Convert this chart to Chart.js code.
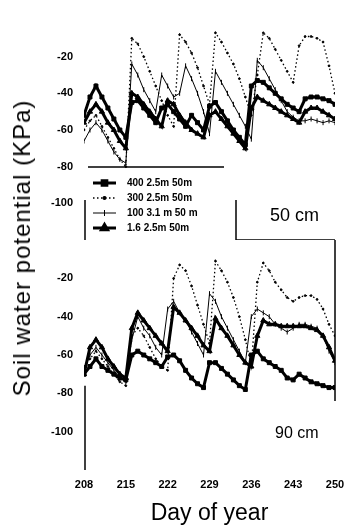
<!DOCTYPE html>
<html>
<head>
<meta charset="utf-8">
<script src="https://cdn.jsdelivr.net/npm/chart.js@4"></script>
<style>
  html, body { margin: 0; padding: 0; background: #fff; }
  #wrap { position: relative; width: 344px; height: 529px; overflow: hidden; }
  .panel { position: absolute; left: 0; width: 344px; }
  #top { top: 0; height: 240px; }
  #bot { top: 240px; height: 289px; }
  #ytitle {
    position: absolute; left: 22px; top: 248px;
    transform: translate(-50%, -50%) rotate(-90deg);
    font: 24px "Liberation Sans", Arial, sans-serif; letter-spacing: 1px;
    white-space: nowrap; color: #000;
  }
</style>
</head>
<body>
<div id="wrap">
  <div class="panel" id="top"><canvas id="c50"></canvas></div>
  <div class="panel" id="bot"><canvas id="c90"></canvas></div>
  <div id="ytitle">Soil water potential (KPa)</div>
</div>
<script>
// Day of year, one reading per day
const days = [208,209,210,211,212,213,214,215,216,217,218,219,220,221,222,223,224,225,226,227,228,
              229,230,231,232,233,234,235,236,237,238,239,240,241,242,243,244,245,246,247,248,249,250];
const xTicks = [208, 215, 222, 229, 236, 243, 250];
const yTicks = [-20, -40, -60, -80, -100];

const seriesLabels = ['400 2.5m 50m', '300 2.5m 50m', '100 3.1 m 50 m', '1.6 2.5m 50m'];

// 50 cm depth (kPa)
const s50a = [-52,-42,-36,-42,-48,-54,-60,-64,-45,-44,-48,-52,-56,-48,-46,-50,-54,-58,-52,-56,-60,
              -47,-45,-50,-55,-60,-64,-68,-36,-33,-34,-37,-40,-43,-46,-48,-50,-43,-42,-42,-43,-44,-46];
const s50b = [-60,-55,-52,-58,-64,-70,-76,-80,-10,-13,-20,-28,-36,-44,-52,-58,-8,-12,-18,-26,-36,
              -46,-7,-12,-18,-24,-32,-42,-52,-30,-7,-10,-16,-22,-28,-34,-14,-9,-9,-10,-12,-25,-40];
const s50c = [-66,-60,-56,-60,-66,-72,-76,-78,-24,-30,-38,-44,-50,-30,-36,-42,-40,-25,-32,-40,-50,
              -62,-28,-34,-40,-46,-52,-58,-65,-22,-26,-32,-38,-44,-50,-53,-55,-55,-54,-55,-56,-55,-56];
const s50d = [-56,-50,-46,-50,-56,-60,-66,-70,-40,-42,-46,-50,-54,-58,-44,-46,-52,-56,-60,-62,-64,
              -52,-50,-54,-58,-62,-66,-70,-48,-42,-44,-46,-48,-50,-52,-54,-56,-50,-48,-48,-50,-52,-54];

// 90 cm depth (kPa)
const s90a = [-70,-66,-62,-66,-68,-70,-72,-73,-60,-58,-60,-62,-64,-66,-61,-60,-63,-68,-72,-75,-77,
              -64,-64,-67,-70,-73,-76,-78,-60,-58,-62,-64,-66,-68,-72,-73,-70,-72,-74,-75,-76,-77,-77];
const s90b = [-66,-62,-58,-62,-66,-70,-74,-76,-50,-46,-50,-56,-62,-66,-68,-20,-13,-16,-24,-34,-44,
              -54,-11,-16,-22,-30,-40,-52,-66,-22,-12,-16,-22,-26,-30,-32,-30,-29,-29,-31,-36,-44,-50];
const s90c = [-68,-60,-56,-60,-64,-68,-72,-74,-52,-40,-46,-50,-56,-60,-36,-32,-38,-42,-48,-54,-60,
              -28,-32,-40,-46,-52,-58,-64,-40,-36,-38,-40,-44,-46,-48,-46,-44,-44,-45,-46,-50,-58,-64];
const s90d = [-70,-56,-52,-56,-62,-66,-70,-72,-46,-38,-42,-46,-50,-54,-58,-35,-38,-42,-46,-50,-55,
              -58,-41,-46,-50,-55,-60,-64,-66,-50,-42,-44,-44,-45,-45,-45,-45,-45,-46,-47,-50,-56,-63];

const FONT = '"Liberation Sans", Arial, sans-serif';
const styles = [
  { borderWidth: 3, pointStyle: 'rect', pointRadius: 2.8, borderDash: [] },
  { borderWidth: 1.3, pointStyle: 'circle', pointRadius: 0.9, borderDash: [1.5, 2.5] },
  { borderWidth: 1, pointStyle: 'line', pointRadius: 2.5, rotation: 90, borderDash: [] },
  { borderWidth: 3, pointStyle: 'triangle', pointRadius: 3, borderDash: [] },
];

function makeSets(list) {
  return list.map((vals, i) => ({
    label: seriesLabels[i],
    data: days.map((d, k) => ({ x: d, y: vals[k] })),
    borderColor: '#000',
    backgroundColor: '#000',
    pointBackgroundColor: '#000',
    pointBorderColor: '#000',
    pointBorderWidth: 1,
    tension: 0,
    ...styles[i],
    pointRotation: styles[i].rotation || 0,
  }));
}

// keep the plot box fixed: no extra room for tick labels
function noPad(s) {
  s.paddingTop = 0; s.paddingBottom = 0; s.paddingLeft = 0; s.paddingRight = 0;
}

function yScale() {
  return {
    min: -120, max: 0,
    afterBuildTicks: s => { s.ticks = yTicks.map(v => ({ value: v })); },
    afterFit: s => { s.width = 84; noPad(s); },
    grid: { display: false, drawTicks: false },
    border: { display: false },
    ticks: { padding: 11, color: '#000', font: { family: FONT, size: 11, weight: 'bold' } },
  };
}

function line(ctx, x1, y1, x2, y2) {
  ctx.beginPath(); ctx.moveTo(x1, y1); ctx.lineTo(x2, y2); ctx.stroke();
}

// legend box inside the 50 cm panel plus the panel label
const legendPlugin = {
  id: 'boxLegend',
  afterDraw(chart) {
    const { ctx, chartArea: a } = chart;
    const boxL = a.left, boxR = a.left + 152, boxT = a.bottom - 73;
    ctx.save();
    ctx.strokeStyle = '#000'; ctx.lineWidth = 1.5;
    line(ctx, boxL + 4, boxT, boxR - 12, boxT);
    line(ctx, boxL + 1, a.bottom - 40, boxL + 1, a.bottom);
    line(ctx, boxR, a.bottom - 40, boxR, a.bottom);
    line(ctx, boxR, a.bottom, a.right, a.bottom);
    chart.data.datasets.forEach((ds, i) => {
      const y = a.bottom - 57 + i * 15;
      const x0 = a.left + 9, x1 = a.left + 32;
      ctx.lineWidth = ds.borderWidth;
      ctx.setLineDash(ds.borderDash || []);
      line(ctx, x0, y, x1, y);
      ctx.setLineDash([]);
      Chart.helpers.drawPoint(ctx, {
        pointStyle: ds.pointStyle, radius: ds.pointRadius + 0.5, rotation: ds.pointRotation, borderWidth: 1
      }, (x0 + x1) / 2, y);
      ctx.fillStyle = '#000';
      ctx.font = 'bold 10px ' + FONT;
      ctx.textBaseline = 'middle';
      ctx.fillText(ds.label, a.left + 43, y);
    });
    ctx.font = '18px ' + FONT;
    ctx.textBaseline = 'middle';
    ctx.fillText('50 cm', a.left + 186, a.bottom - 24);
    ctx.restore();
  }
};

// partial frame of the 90 cm panel plus its label
const framePlugin = {
  id: 'frame90',
  afterDraw(chart) {
    const { ctx, chartArea: a, scales: { y } } = chart;
    ctx.save();
    ctx.strokeStyle = '#000'; ctx.lineWidth = 1.5;
    line(ctx, a.left + 1, y.getPixelForValue(-76), a.left + 1, a.bottom);
    line(ctx, a.right, a.top, a.right, y.getPixelForValue(-84));
    ctx.fillStyle = '#000';
    ctx.font = '16px ' + FONT;
    ctx.textBaseline = 'middle';
    ctx.fillText('90 cm', a.left + 191, y.getPixelForValue(-101));
    ctx.restore();
  }
};

const xBase = {
  type: 'linear', min: 208, max: 250,
  afterBuildTicks: s => { s.ticks = xTicks.map(v => ({ value: v })); },
  grid: { display: false, drawTicks: false },
  border: { display: false },
};

new Chart(document.getElementById('c50'), {
  type: 'line',
  data: { datasets: makeSets([s50a, s50b, s50c, s50d]) },
  options: {
    responsive: true, maintainAspectRatio: false, animation: false,
    layout: { autoPadding: false, padding: { top: 20, right: 9, left: 0, bottom: 0 } },
    scales: { x: { ...xBase, display: false }, y: yScale() },
    plugins: { legend: { display: false }, tooltip: { enabled: false } },
  },
  plugins: [legendPlugin],
});

new Chart(document.getElementById('c90'), {
  type: 'line',
  data: { datasets: makeSets([s90a, s90b, s90c, s90d]) },
  options: {
    responsive: true, maintainAspectRatio: false, animation: false,
    layout: { autoPadding: false, padding: { top: 0, right: 9, left: 0, bottom: 2 } },
    scales: {
      x: {
        ...xBase,
        afterFit: s => { s.height = 57; noPad(s); },
        ticks: { padding: 8, color: '#000', maxRotation: 0, font: { family: FONT, size: 11, weight: 'bold' } },
        title: { display: true, text: 'Day of year', color: '#000', padding: { top: 0, bottom: 0 },
                 font: { family: FONT, size: 23 } },
      },
      y: yScale(),
    },
    plugins: { legend: { display: false }, tooltip: { enabled: false } },
  },
  plugins: [framePlugin],
});
</script>
</body>
</html>
